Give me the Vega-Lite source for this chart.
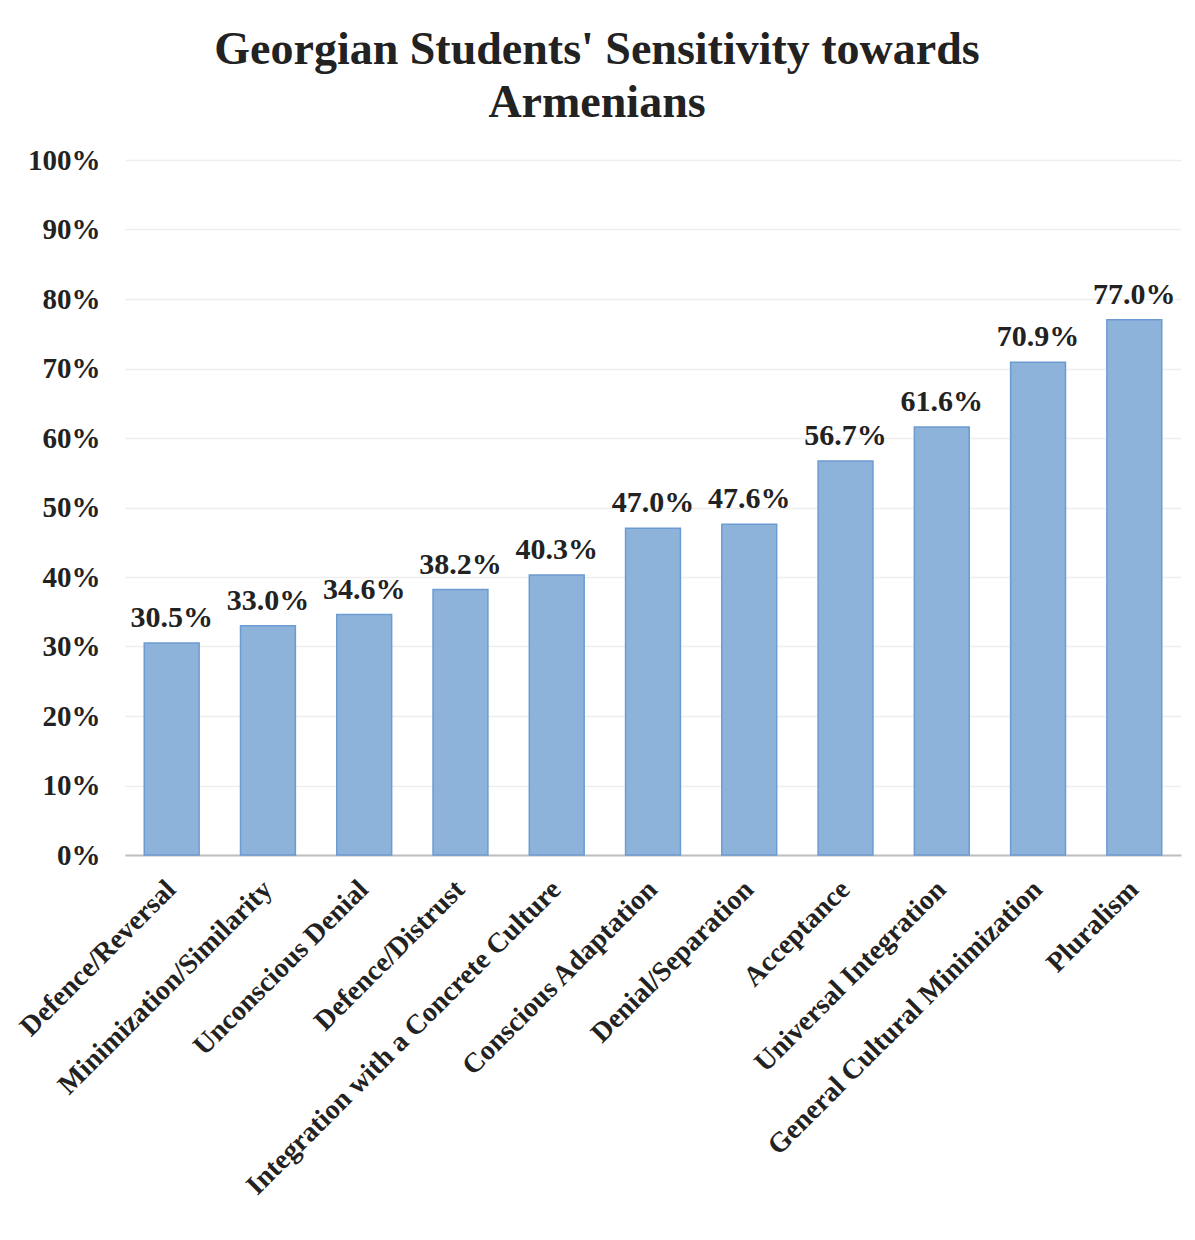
{
  "$schema": "https://vega.github.io/schema/vega-lite/v6.json",
  "width": 1056,
  "height": 695,
  "autosize": {"type": "none"},
  "padding": {"left": 125, "top": 160, "right": 14, "bottom": 385},
  "background": "white",
  "title": {
    "text": ["Georgian Students' Sensitivity towards", "Armenians"],
    "font": "Liberation Serif",
    "fontSize": 46,
    "fontWeight": "bold",
    "color": "#222222",
    "anchor": "middle",
    "dx": -56,
    "offset": 19,
    "lineHeight": 53
  },
  "config": {
    "view": {"stroke": null},
    "font": "Liberation Serif"
  },
  "data": {
    "values": [
      {"category": "Defence/Reversal", "value": 0.305},
      {"category": "Minimization/Similarity", "value": 0.330},
      {"category": "Unconscious Denial", "value": 0.346},
      {"category": "Defence/Distrust", "value": 0.382},
      {"category": "Integration with a Concrete Culture", "value": 0.403},
      {"category": "Conscious Adaptation", "value": 0.470},
      {"category": "Denial/Separation", "value": 0.476},
      {"category": "Acceptance", "value": 0.567},
      {"category": "Universal Integration", "value": 0.616},
      {"category": "General Cultural Minimization", "value": 0.709},
      {"category": "Pluralism", "value": 0.770}
    ]
  },
  "encoding": {
    "x": {
      "field": "category",
      "type": "nominal",
      "sort": null,
      "scale": {"paddingInner": 0.43, "paddingOuter": 0.2},
      "axis": {
        "title": null,
        "labelAngle": -45,
        "labelAlign": "right",
        "labelBaseline": "middle",
        "labelFont": "Liberation Serif",
        "labelFontSize": 28,
        "labelFontWeight": "bold",
        "labelColor": "#222222",
        "labelPadding": 30,
        "labelLimit": 700,
        "ticks": false,
        "domainColor": "#bfbfbf",
        "domainWidth": 2,
        "grid": false
      }
    },
    "y": {
      "field": "value",
      "type": "quantitative",
      "scale": {"domain": [0, 1], "nice": false},
      "axis": {
        "title": null,
        "format": ".0%",
        "values": [0, 0.1, 0.2, 0.3, 0.4, 0.5, 0.6, 0.7, 0.8, 0.9, 1.0],
        "labelFont": "Liberation Serif",
        "labelFontSize": 29,
        "labelFontWeight": "bold",
        "labelColor": "#222222",
        "labelPadding": 25,
        "ticks": false,
        "domain": false,
        "grid": true,
        "gridColor": "#eeeeee",
        "gridWidth": 1.5
      }
    }
  },
  "layer": [
    {
      "mark": {"type": "bar", "fill": "#8DB3DA", "stroke": "#6C9BD2", "strokeWidth": 1.5}
    },
    {
      "mark": {
        "type": "text",
        "baseline": "bottom",
        "dy": -10,
        "font": "Liberation Serif",
        "fontSize": 30,
        "fontWeight": "bold",
        "color": "#222222"
      },
      "encoding": {
        "text": {"field": "value", "type": "quantitative", "format": ".1%"}
      }
    }
  ]
}
